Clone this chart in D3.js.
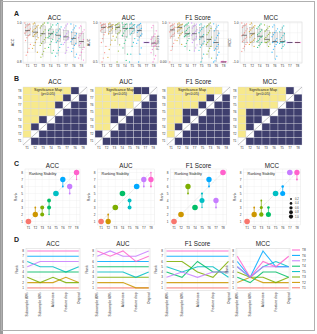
<!DOCTYPE html>
<html><head><meta charset="utf-8">
<script src="https://cdn.jsdelivr.net/npm/d3@7"></script>
<style>body{margin:0;background:#fff}svg{display:block;font-family:"Liberation Sans",Arial,sans-serif}</style>
</head><body><svg id="c" width="317" height="334"></svg>
<script>
const metrics = ["ACC","AUC","F1 Score","MCC"];
const groupColors = {T1:"#F8766D",T2:"#CD9600",T3:"#7CAE00",T4:"#00BE67",T5:"#00BFC4",T6:"#00A9FF",T7:"#C77CFF",T8:"#FF61CC"};

// ---------- A: boxplots ----------
const boxOrder = {
  "ACC":["T1","T2","T3","T4","T5","T7","T6","T8"],
  "AUC":["T1","T2","T3","T4","T5","T6","T7","T8"],
  "F1 Score":["T1","T2","T4","T7","T5","T3","T6","T8"],
  "MCC":["T1","T2","T4","T3","T6","T5","T7","T8"]
};
const boxDomain = {"ACC":[0.8,1.0],"AUC":[0.5,1.0],"F1 Score":[0,1],"MCC":[-1,1]};
const boxTickLabels = {"ACC":["0.8","1.0"],"AUC":["0.5","1.0"],"F1 Score":["0.00","1.0"],"MCC":["-1.0","1.0"]};
// [lower whisker, q1, median, q3, upper whisker]
const boxStatsACC = [[.85,.937,.961,.994,1],[.85,.929,.953,.985,1],[.825,.897,.945,.985,1],[.845,.921,.945,.969,1],[.83,.905,.937,.969,.998],[.845,.913,.929,.961,.995],[.825,.889,.921,.953,.995],[.81,.873,.905,.945,.985]];
const boxStatsAUC = [[.75,.88,.944,.984,1],[.72,.863,.95,.984,1],[.72,.863,.944,.984,1],[.6,.823,.93,.984,1],[.7,.863,.93,.98,1],[.6,.823,.903,.976,.995],[.75,.75,.75,.75,.75],[.58,.70,.742,.823,.97]];
const boxStatsF1 = [[.3,.645,.823,.927,1],[.45,.726,.887,.968,1],[.3,.645,.726,.927,1],[.28,.565,.726,.927,1],[0,.444,.645,.887,.98],[.1,.403,.58,.927,1],[0,.323,.5,.806,.98],[0,0,0,.01,.02]];
const boxStatsMCC = [[-.45,0,.37,.855,1],[-.2,0,.45,.774,1],[-.25,0,.32,.69,.95],[-.2,0,.16,.61,.9],[-.85,0,.05,.53,.9],[-.3,0,.05,.53,.85],[0,0,0,0,0],[0,0,0,0,0]];
const pointsACC = [
 [1.0,.995,.99,.985,.978,.97,.965,.96,.955,.948,.94,.935,.925,.91,.89,.87,.85,.835],
 [1.0,.995,.988,.98,.972,.965,.958,.952,.945,.94,.932,.925,.915,.9,.885,.87,.85],
 [1.0,.993,.985,.975,.965,.955,.945,.935,.925,.915,.905,.895,.885,.87,.855,.84,.825],
 [1.0,.99,.98,.97,.962,.955,.948,.94,.932,.925,.915,.905,.89,.875,.86,.845],
 [.998,.99,.98,.97,.96,.95,.94,.93,.92,.91,.9,.89,.875,.86,.845,.83],
 [.995,.985,.975,.965,.955,.945,.935,.93,.925,.918,.91,.9,.89,.875,.86,.845],
 [.995,.985,.975,.965,.955,.945,.935,.925,.915,.905,.895,.885,.87,.855,.84,.825],
 [.985,.975,.965,.955,.945,.935,.925,.915,.905,.895,.885,.875,.865,.85,.835,.82,.81]];
const pointsAUC = [
 [1.0,.99,.985,.975,.965,.955,.945,.935,.92,.9,.88,.85,.8,.75,.7,.62,.55,.5],
 [1.0,.99,.98,.97,.96,.95,.94,.93,.91,.89,.86,.83,.78,.72,.66,.56],
 [1.0,.99,.98,.97,.96,.95,.94,.92,.9,.88,.86,.82,.78,.72,.64,.5],
 [1.0,.99,.98,.96,.95,.93,.92,.9,.87,.84,.82,.78,.74,.68,.6,.52],
 [1.0,.99,.98,.97,.95,.94,.93,.91,.89,.87,.85,.8,.75,.7,.6,.5],
 [.995,.98,.97,.95,.93,.91,.9,.88,.86,.84,.82,.78,.74,.68,.6,.5],
 [.75,.75,.75,.75,.75,.75,.75,.75],
 [.97,.94,.9,.86,.83,.81,.79,.77,.75,.74,.73,.72,.71,.7,.66,.62,.58,.54,.5]];
const pointsF1 = [
 [1.0,.98,.96,.94,.92,.89,.86,.83,.8,.77,.74,.7,.66,.62,.56,.48,.4,.3,0],
 [1.0,.98,.97,.95,.93,.91,.89,.87,.85,.82,.79,.76,.72,.68,.62,.55,.45],
 [1.0,.97,.95,.92,.89,.85,.81,.77,.74,.72,.7,.68,.65,.6,.55,.48,.4,.3],
 [1.0,.97,.94,.91,.87,.83,.79,.75,.72,.69,.65,.6,.56,.5,.44,.36,.28],
 [.98,.95,.92,.88,.84,.8,.75,.7,.66,.62,.58,.53,.48,.43,.38,.3,.2,.1,0],
 [1.0,.97,.93,.9,.86,.8,.75,.7,.64,.58,.54,.5,.45,.4,.35,.28,.2,.1],
 [.98,.94,.9,.85,.8,.74,.68,.62,.56,.5,.45,.4,.35,.3,.25,.18,.1,.03,0],
 [.02,.015,.01,.005,0,0,0,0]];
const pointsMCC = [
 [1.0,.95,.9,.85,.78,.7,.6,.5,.42,.35,.28,.2,.12,.05,0,-.1,-.2,-.3,-.45],
 [1.0,.93,.86,.8,.72,.64,.56,.48,.42,.36,.28,.2,.12,.05,0,-.1,-.2],
 [.95,.88,.8,.72,.64,.56,.48,.4,.33,.26,.18,.1,.04,0,-.08,-.15,-.25],
 [.9,.82,.74,.66,.58,.5,.42,.34,.26,.18,.12,.06,0,0,-.08,-.2],
 [.9,.8,.7,.6,.5,.4,.3,.2,.12,.06,0,0,-.1,-.2,-.35,-.5,-.7,-.85],
 [.85,.75,.65,.55,.45,.35,.25,.15,.08,.03,0,0,-.05,-.12,-.2,-.3],
 [0,0,0,0,0],
 [0,0,0,0,0]];
const boxStats = {"ACC":boxStatsACC,"AUC":boxStatsAUC,"F1 Score":boxStatsF1,"MCC":boxStatsMCC};
const boxPoints = {"ACC":pointsACC,"AUC":pointsAUC,"F1 Score":pointsF1,"MCC":pointsMCC};

// ---------- B: significance maps (upper-left triangle, rows top->bottom; 1 = significant) ----------
const sigACC = ["0000001","000001","00001","0000","001","01","0"];
const sigAUC = ["0000011","000000","00000","0011","001","00","1"];
const sigF1  = ["0000000","000001","00001","0011","001","01","0"];
const sigMCC = ["0000001","000000","00000","0111","011","01","0"];
const sigMaps = {"ACC":sigACC,"AUC":sigAUC,"F1 Score":sigF1,"MCC":sigMCC};

// ---------- C: ranking stability [rank, proportion] ----------
const rankOrder = ["T1","T2","T3","T4","T5","T6","T7","T8"];
const rankACC = [[[1,1]],[[2,.9],[3,.1]],[[2,.5],[3,.5]],[[3,.5],[4,.45],[2,.05]],[[5,1]],[[7,.9],[6,.1]],[[6,.9],[5,.1]],[[8,.95],[7,.05]]];
const rankAUC = [[[1,1]],[[1,.9],[2,.1]],[[3,1]],[[5,1]],[[4,.5],[3,.5]],[[6,1]],[[7,.9],[6,.1]],[[7,.9],[6,.1],[8,.05]]];
const rankF1  = [[[1,1]],[[2,1]],[[6,.9],[5,.1]],[[3,1]],[[4,.8],[5,.15],[3,.05]],[[7,.9],[6,.1]],[[4,.9],[3,.1]],[[8,1]]];
const rankMCC = [[[1,1]],[[2,.9],[3,.1]],[[2,.6],[3,.3],[4,.1]],[[2,.8],[3,.2]],[[5,1]],[[5,.8],[6,.2]],[[8,1]],[[8,.9],[7,.1]]];
const rankData = {"ACC":rankACC,"AUC":rankAUC,"F1 Score":rankF1,"MCC":rankMCC};
const sizeLegendValues = [0.2,0.4,0.6,0.8,1.0];

// ---------- D: rank across perturbations ----------
const conditions = ["Subsample 80%","Subsample 60%","Add noise","Feature drop","Original"];
const legendOrder = ["T8","T6","T7","T4","T5","T3","T2","T1"];
const bumpACC = {T8:[8,8,8,8,8],T6:[7,7,7,7,7],T7:[5,6,6,6,6],T5:[6,5,5,4,5],T4:[4,4,4,4,4],T3:[3,2,3,2,2],T2:[2,2,2,3,2],T1:[1,1,1,1,1]};
const bumpAUC = {T8:[8,7,8,6,7],T7:[7,8,7,7,8],T6:[6,6,6,6,6],T4:[5,5,5,5,5],T5:[4,4,4,3,4],T3:[3,3,3,3,3],T2:[2,2,2,1,1],T1:[1,1,1,1,1]};
const bumpF1  = {T8:[8,8,8,8,8],T6:[7,7,7,7,7],T3:[6,6,4,3,6],T5:[5,4,5,5,3],T4:[4,3,6,4,4],T7:[3,4,3,4,4],T2:[2,2,2,2,2],T1:[1,1,1,1,1]};
const bumpMCC = {T8:[7,3,6,5,7],T6:[6,3,8,5,5],T7:[5,3,5,5,5],T5:[5,3,5,6,5],T4:[3,2,4,4,3],T3:[4,3,3,2,3],T2:[2,3,2,2,2],T1:[1,1,1,1,1]};
const bumpData = {"ACC":bumpACC,"AUC":bumpAUC,"F1 Score":bumpF1,"MCC":bumpMCC};

// ---------- layout ----------
const aPanels = [[23,86],[99,158],[168,228],[240,302]];
const bPanels = [[23,87],[95,157],[167,230],[238,302]];
const cPanels = [[25,80],[97.5,154.5],[170.5,226.5],[243.5,300.5]];
const dPanels = [[26,80],[96,150],[165,230],[236,290]];

const svg = d3.select("#c");
const gridC = "#ebebeb", txt = "#222";
svg.append("rect").attr("x",0).attr("y",0).attr("width",3).attr("height",334).attr("fill","#9b9b9b");
svg.append("rect").attr("x",1.5).attr("y",1.5).attr("width",313).attr("height",329).attr("fill","none").attr("stroke","#b0b0b0").attr("stroke-width",1);

function label(t,x,y){svg.append("text").attr("x",x).attr("y",y).attr("font-size",7).attr("font-weight","bold").attr("fill",txt).text(t);}
function title(t,x,y){svg.append("text").attr("x",x).attr("y",y).attr("text-anchor","middle").attr("font-size",6.3).attr("fill",txt).text(t);}
function small(g,t,x,y,anchor,size){return g.append("text").attr("x",x).attr("y",y).attr("text-anchor",anchor||"middle").attr("font-size",size||3.3).attr("fill","#333").text(t);}

label("A",14,16); label("B",14,81); label("C",14,166); label("D",14,242);

// ===== A =====
metrics.forEach((m,k)=>{
  const [L,R]=aPanels[k], T=22, B=63;
  const g = svg.append("g");
  title(m,(L+R)/2,19.5);
  const order = boxOrder[m];
  const x = d3.scaleBand().domain(order).range([L,R]).paddingInner(0.2).paddingOuter(0.2);
  const y = d3.scaleLinear().domain(boxDomain[m]).range([B-1,T+1]);
  g.append("rect").attr("x",L).attr("y",T).attr("width",R-L).attr("height",B-T).attr("fill","#fff").attr("stroke","#d0d0d0").attr("stroke-width",0.5);
  y.ticks(4).forEach(v=>g.append("line").attr("x1",L).attr("x2",R).attr("y1",y(v)).attr("y2",y(v)).attr("stroke",gridC).attr("stroke-width",0.4));
  order.forEach(o=>g.append("line").attr("x1",x(o)+x.bandwidth()/2).attr("x2",x(o)+x.bandwidth()/2).attr("y1",T).attr("y2",B).attr("stroke",gridC).attr("stroke-width",0.4));
  const dom = boxDomain[m], tl = boxTickLabels[m];
  small(g,tl[0],L-1.5,y(dom[0])+1.2,"end",3.3);
  small(g,tl[1],L-1.5,y(dom[1])+1.2,"end",3.3);
  small(g,m,0,0,"middle",3.6).attr("transform",`translate(${L-9},${(T+B)/2}) rotate(-90)`);
  order.forEach((o,i)=>{
    const s = boxStats[m][i], cx = x(o)+x.bandwidth()/2, bw = x.bandwidth()*0.8, col = groupColors[o];
    g.append("line").attr("x1",cx).attr("x2",cx).attr("y1",y(s[0])).attr("y2",y(s[4])).attr("stroke","#aaa").attr("stroke-width",0.4);
    g.append("rect").attr("x",cx-bw/2).attr("y",y(s[3])).attr("width",bw).attr("height",Math.max(0.3,y(s[1])-y(s[3])))
      .attr("fill","#dcdcdc").attr("fill-opacity",0.45).attr("stroke","#a8a8a8").attr("stroke-width",0.4);
    boxPoints[m][i].forEach((v,j)=>{
      const off = (((j*7+i*3)%9)/8-0.5)*x.bandwidth()*0.9;
      g.append("circle").attr("cx",cx+off).attr("cy",y(v)).attr("r",0.65).attr("fill",col).attr("fill-opacity",0.75);
    });
    g.append("line").attr("x1",cx-bw/2).attr("x2",cx+bw/2).attr("y1",y(s[2])).attr("y2",y(s[2])).attr("stroke","#333").attr("stroke-width",0.6);
    small(g,o,cx,B+3.8,"middle",3.1);
  });
});

// ===== B =====
metrics.forEach((m,k)=>{
  const [L,R]=bPanels[k], T=87, B=145;
  const g = svg.append("g");
  title(m,(L+R)/2,84);
  const order = boxOrder[m];
  const hx = d3.scaleBand().domain(d3.range(8)).range([L,R]);
  const hy = d3.scaleBand().domain(d3.range(8)).range([T,B]);
  const sig = sigMaps[m];
  for(let r=0;r<8;r++) for(let c=0;c<8;c++){
    let fill;
    if(r+c===7) fill="#ffffff";
    else if(r+c>7) fill="#3f3f6e";
    else fill = sig[r][c]==="1" ? "#3f3f6e" : "#f7e98c";
    g.append("rect").attr("x",hx(c)).attr("y",hy(r)).attr("width",hx.bandwidth()).attr("height",hy.bandwidth())
      .attr("fill",fill).attr("stroke","#d8d8e0").attr("stroke-width",0.35);
  }
  g.append("line").attr("x1",L).attr("y1",B).attr("x2",R).attr("y2",T).attr("stroke","#9a9a9a").attr("stroke-width",0.6);
  for(let r=0;r<8;r++) small(g,order[7-r],L-1.5,hy(r)+hy.bandwidth()/2+1.1,"end",3.1);
  for(let c=0;c<8;c++) small(g,order[c],hx(c)+hx.bandwidth()/2,B+4.2,"middle",3.1);
  const tx = L+25;
  small(g,"Significance Map",tx,T+3.6,"middle",3.7).attr("fill","#222");
  small(g,"(p<0.05)",tx,T+7.6,"middle",3.7).attr("fill","#222");
});

// ===== C =====
const sizeR = d3.scaleSqrt().domain([0,1]).range([0,2.8]);
metrics.forEach((m,k)=>{
  const [L,R]=cPanels[k], T=169, B=225;
  const g = svg.append("g");
  title(m,(L+R)/2,167.5);
  const x = d3.scalePoint().domain(rankOrder).range([L,R]).padding(0.5);
  const y = d3.scaleLinear().domain([0.5,8.5]).range([B,T]);
  g.append("rect").attr("x",L).attr("y",T).attr("width",R-L).attr("height",B-T).attr("fill","#fff").attr("stroke","#e2e2e2").attr("stroke-width",0.4);
  d3.range(1,9).forEach(v=>{
    g.append("line").attr("x1",L).attr("x2",R).attr("y1",y(v)).attr("y2",y(v)).attr("stroke",gridC).attr("stroke-width",0.35);
    small(g,String(v),L-2,y(v)+1.1,"end",3.1);
  });
  rankOrder.forEach(o=>{
    g.append("line").attr("x1",x(o)).attr("x2",x(o)).attr("y1",T).attr("y2",B).attr("stroke",gridC).attr("stroke-width",0.35);
    small(g,o,x(o),B+3.8,"middle",3.1);
  });
  small(g,"Rank",0,0,"middle",3.6).attr("transform",`translate(${L-8},${(T+B)/2}) rotate(-90)`);
  g.append("line").attr("x1",x(rankOrder[0])).attr("y1",y(1)).attr("x2",x(rankOrder[7])).attr("y2",y(8))
    .attr("stroke","#b5b5b5").attr("stroke-width",0.5).attr("stroke-dasharray","0.8,0.9");
  small(g,"Ranking Stability",L+4,T+6.2,"start",3.7).attr("fill","#222");
  rankData[m].forEach((arr,i)=>{
    const o = rankOrder[i], col = groupColors[o], cx = x(o);
    const rs = arr.map(d=>d[0]);
    g.append("line").attr("x1",cx).attr("x2",cx).attr("y1",y(d3.min(rs))).attr("y2",y(d3.max(rs))).attr("stroke",col).attr("stroke-width",0.7);
    arr.forEach(([rk,p])=>g.append("circle").attr("cx",cx).attr("cy",y(rk)).attr("r",sizeR(p)).attr("fill",col));
  });
  if(m==="MCC"){
    sizeLegendValues.forEach((v,i)=>{
      const ly = 199+i*4.4;
      g.append("circle").attr("cx",291).attr("cy",ly).attr("r",sizeR(v)*0.75).attr("fill","#111");
      small(g,v.toFixed(1),295,ly+1,"start",2.6);
    });
  }
});

// ===== D =====
metrics.forEach((m,k)=>{
  const [L,R]=dPanels[k], T=248.3, B=290.5;
  const g = svg.append("g");
  title(m,(L+R)/2,245.5);
  const x = d3.scalePoint().domain(conditions).range([L,R]).padding(0.1);
  const y = d3.scaleLinear().domain([0.5,8.5]).range([B,T]);
  g.append("rect").attr("x",L).attr("y",T).attr("width",R-L).attr("height",B-T).attr("fill","#fff").attr("stroke","#d4d4d4").attr("stroke-width",0.5);
  d3.range(1,9).forEach(v=>{
    g.append("line").attr("x1",L).attr("x2",R).attr("y1",y(v)).attr("y2",y(v)).attr("stroke",gridC).attr("stroke-width",0.35);
    small(g,String(v),L-2,y(v)+1.1,"end",3.1);
  });
  conditions.forEach(c=>{
    g.append("line").attr("x1",x(c)).attr("x2",x(c)).attr("y1",T).attr("y2",B).attr("stroke",gridC).attr("stroke-width",0.35);
    small(g,c,0,0,"end",3.3).attr("fill","#222").attr("transform",`translate(${x(c)+1.1},${B+2}) rotate(-90)`);
  });
  small(g,"Rank",0,0,"middle",3.6).attr("transform",`translate(${L-8},${(T+B)/2}) rotate(-90)`);
  const line = d3.line().x((d,i)=>x(conditions[i])).y(d=>y(d));
  const data = bumpData[m];
  legendOrder.slice().reverse().forEach(t=>{
    g.append("path").attr("d",line(data[t])).attr("fill","none").attr("stroke",groupColors[t]).attr("stroke-width",t==="T1"?1.6:1.1).attr("stroke-opacity",t==="T1"?0.55:0.85);
  });
  if(m==="MCC"){
    legendOrder.forEach((t,i)=>{
      const ly = 250+i*5.4;
      g.append("line").attr("x1",292).attr("x2",300).attr("y1",ly).attr("y2",ly).attr("stroke",groupColors[t]).attr("stroke-width",1);
      small(g,t,302,ly+1.1,"start",3.2);
    });
  }
});
</script></body></html>
